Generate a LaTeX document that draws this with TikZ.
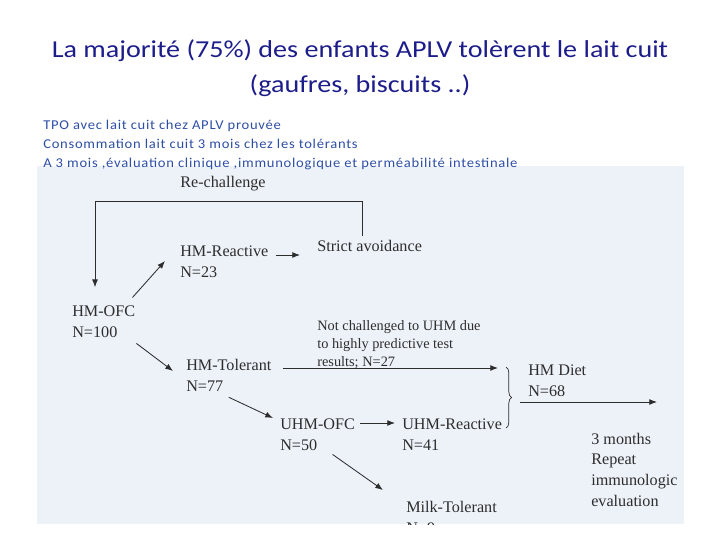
\documentclass[tikz,border=0pt]{standalone}
\usepackage{fontspec}
\setmainfont{Liberation Serif}
\newfontfamily\calibri{Carlito}[FakeStretch=1.155]
\newfontfamily\calibrisp{Carlito}[FakeStretch=1.08,LetterSpace=5.5]
\usepackage{tikz}
\usetikzlibrary{arrows.meta,decorations.pathreplacing}
\definecolor{navy}{RGB}{28,28,138}
\definecolor{subblue}{RGB}{45,78,165}
\definecolor{scan}{RGB}{237,242,249}
\definecolor{ink}{RGB}{45,45,45}
\tikzset{lbl/.style={anchor=base west,inner sep=0,align=left,text=ink,font=\fontsize{11.5}{14.6}\selectfont},small/.style={lbl,font=\fontsize{10.2}{12.8}\selectfont},flux/.style={-{Latex[length=5.5pt,width=4.2pt]},draw=ink,line width=.6pt}}
\begin{document}
\begin{tikzpicture}[x=0.025cm,y=-0.025cm,ttl/.style={anchor=base,align=center,text=navy,font=\calibri\fontsize{17.3}{24.8}\selectfont},sub/.style={anchor=base west,inner sep=0,align=left,text=subblue,font=\calibrisp\fontsize{9.6}{13.5}\selectfont}]
\useasboundingbox (0,0) rectangle (720,540);
\fill[scan] (37,166) rectangle (684,524);
% multi-line nodes sit on their last baseline
\node[ttl] (title) at (360,92) {La majorité (75\%) des enfants APLV tolèrent le lait cuit\\(gaufres, biscuits ..)};
\node[sub] (intro) at (43,167) {TPO avec lait cuit chez APLV prouvée\\Consommation lait cuit 3 mois chez les tolérants\\A 3 mois ,évaluation clinique ,immunologique et perméabilité intestinale};
\begin{scope}
\clip (37,166) rectangle (684,524);
\node[lbl] (rechal) at (180,187) {Re-challenge};
\node[lbl] (hmreact) at (180,277) {HM-Reactive\\N=23};
\node[lbl] (avoid) at (317,251) {Strict avoidance};
\node[lbl] (hmofc) at (72,337) {HM-OFC\\N=100};
\node[small] (notchal) at (317,366) {Not challenged to UHM due\\to highly predictive test\\results; N=27};
\node[lbl] (hmtol) at (186,391) {HM-Tolerant\\N=77};
\node[lbl] (hmdiet) at (528,396) {HM Diet\\N=68};
\node[lbl] (uhmofc) at (280,450) {UHM-OFC\\N=50};
\node[lbl] (uhmreact) at (402,450) {UHM-Reactive\\N=41};
\node[lbl] (repeat) at (591,506) {3 months\\Repeat\\immunologic\\evaluation};
\node[lbl] (milktol) at (406,533) {Milk-Tolerant\\N=9};
\coordinate (loop) at (95,201);
\coordinate (btop) at (506,367);
\coordinate (bbot) at (506,428);
\coordinate (dietout) at (657,402);
% re-challenge loop
\draw[flux,shorten >=13pt] ([shift={(-7,-4)}]avoid.north) |- (loop) -- (loop |- hmofc.north);
\draw[flux] ([shift={(-3,-8)}]hmofc.north east) -- ([shift={(-15,-16)}]hmreact.base west);
\draw[flux] ([shift={(7,-22)}]hmreact.base east) -- ([shift={(-17,-22)}]hmreact.base east -| avoid.west);
\draw[flux] ([shift={(1,6)}]hmofc.south east) -- ([shift={(-13,-20)}]hmtol.base west);
\draw[flux] ([shift={(11,-23)}]hmtol.base east) -- ([shift={(-8,-23)}]hmtol.base east -| btop);
\draw[flux] ([shift={(0,6)}]hmtol.south) -- ([shift={(-7,-32)}]uhmofc.base west);
\draw[flux] ([shift={(5,-27)}]uhmofc.base east) -- ([shift={(-7,-27)}]uhmreact.base west);
\draw[flux] ([shift={(15,4)}]uhmofc.south) -- ([shift={(-23,-43)}]milktol.base west);
\draw[decorate,decoration={brace,amplitude=4pt},draw=ink,line width=.5pt] (btop) -- (bbot);
\draw[flux] ([shift={(14,0)}]btop |- dietout) -- (dietout);
\end{scope}
\end{tikzpicture}
\end{document}
